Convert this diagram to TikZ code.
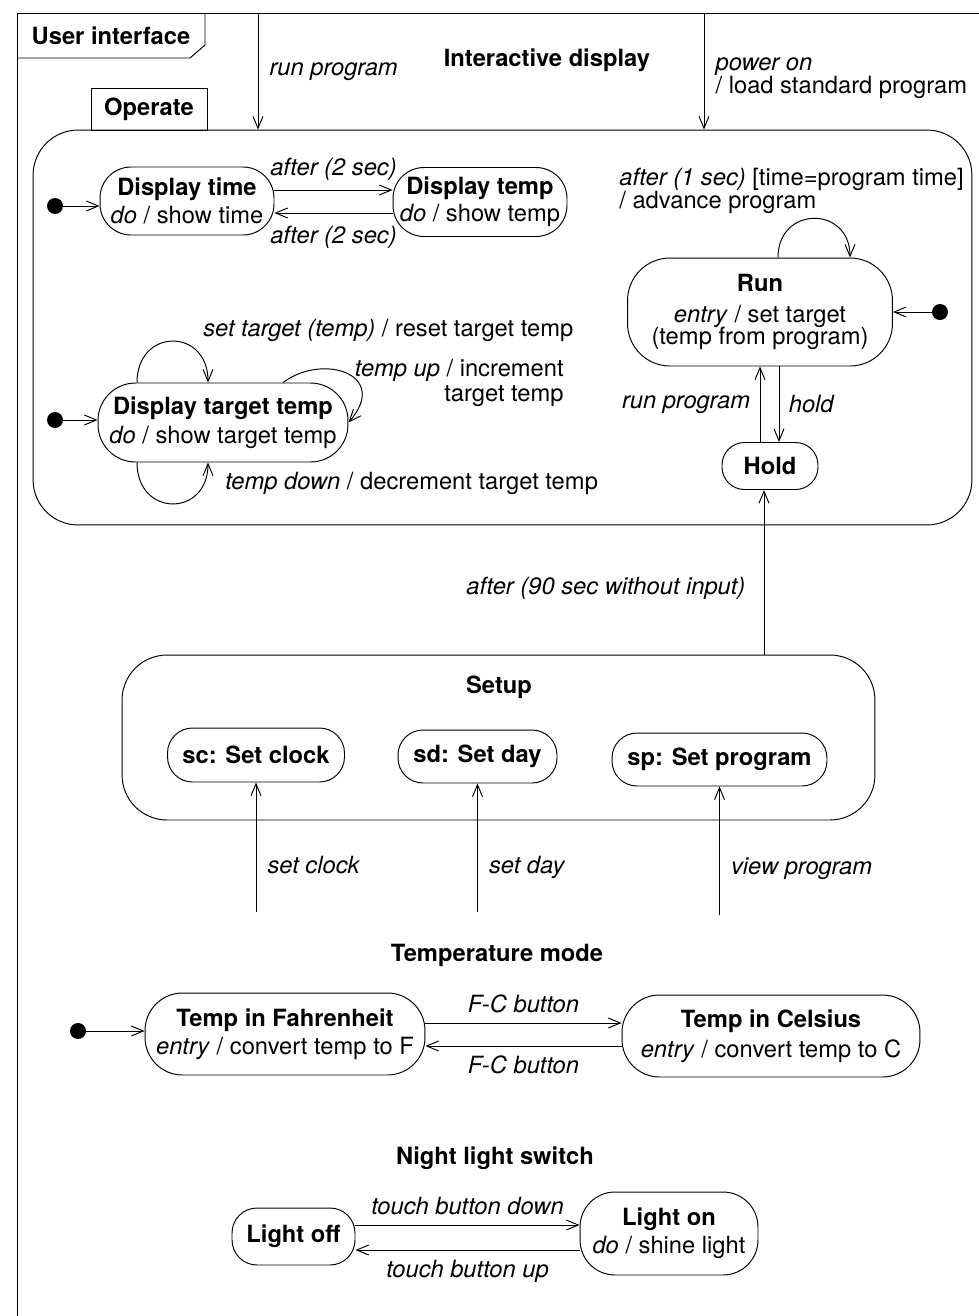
\documentclass[tikz,border=0pt]{standalone}
\usepackage{fontspec}
\setmainfont{TeX Gyre Heros}
\usetikzlibrary{positioning,arrows.meta,calc}

\begin{document}
\begin{tikzpicture}[x=0.02cm, y=-0.02cm,
      font=\fontsize{13.5}{13}\selectfont,
      line width=0.55pt,
      state/.style={draw, rounded corners=0.5cm, align=center, inner sep=2pt},
      comp/.style={draw, rounded corners=0.9cm},
      ttl/.style={font=\fontsize{13.5}{13}\selectfont\bfseries},
      lab/.style={font=\fontsize{13.5}{13}\selectfont\itshape},
      init/.style={circle, fill, inner sep=0pt, minimum size=0.32cm},
      arr/.style={-{Straight Barb[length=2.4mm, width=2mm]}}]
    \useasboundingbox (0,0) rectangle (979,1316);
    % outer frame and its tab
    \draw (17,1316) -- (17,13) -- (979,13);
    \draw (17,58) -- (190,58) -- (205,45) -- (205,13);
    \node[ttl] (ui) at (111,36) {User interface};
    \node[ttl] (idisp) at (547,60) {Interactive display};

    % Operate
    \node[comp, minimum width=18.78cm, minimum height=7.9cm] (operate) at (502.5,327.5) {};
    \node[draw, ttl, minimum width=2.32cm, minimum height=0.84cm] (optab) at (149,109) {Operate};
    \coordinate (runtop) at (258,13);
    \coordinate (pwrtop) at (704,13);
    \draw[arr] (runtop) -- (runtop |- operate.north) node[lab, midway, right=3pt] {run program};
    \draw[arr] (pwrtop) -- (pwrtop |- operate.north)
      node[pos=0.56, right=3pt, align=left] {\textit{power on}\\/ load standard program};

    \node[init] (i1) at (55,206) {};
    \node[state, minimum width=3.48cm, minimum height=1.36cm, rounded corners=0.62cm] (dtime) at (187,201)
      {\textbf{Display time}\\[2.5pt]\textit{do} / show time};
    \node[state, minimum width=3.48cm, minimum height=1.38cm, rounded corners=0.62cm] (dtemp) at (480,202)
      {\textbf{Display temp}\\[2.5pt]\textit{do} / show temp};
    \draw[arr] (i1) -- (i1 -| dtime.west);
    \draw[arr] ([yshift=0.22cm]dtime.east) -- ([yshift=0.22cm]dtime.east -| dtemp.west)
      node[lab, midway, above=2pt] {after (2 sec)};
    \draw[arr] ([yshift=-0.22cm]dtemp.west) -- ([yshift=-0.22cm]dtemp.west -| dtime.east)
      node[lab, midway, below=4pt] {after (2 sec)};

    \node[init] (i2) at (55,420) {};
    \node[state, minimum width=5cm, minimum height=1.58cm, rounded corners=0.75cm] (dtt) at (223,422.5)
      {\textbf{Display target temp}\\[3.5pt]\textit{do} / show target temp};
    \draw[arr] (i2) -- (i2 -| dtt.west);
    \draw[arr] ([xshift=-1.72cm]dtt.north) .. controls +(0,-55) and +(0,-55) .. ([xshift=-0.3cm]dtt.north);
    \draw[arr] ([xshift=1.2cm]dtt.north) .. controls +(40,-30) and +(42,-48) .. (dtt.east);
    \draw[arr] ([xshift=-1.72cm]dtt.south) .. controls +(0,55) and +(0,55) .. ([xshift=-0.3cm]dtt.south);
    \node[anchor=west] (lset) at (197,330) {\textit{set target (temp)} / reset target temp};
    \node[anchor=east, align=right] (lup) at (570,383) {\textit{temp up} / increment\\[1pt]target temp};
    \node[anchor=west] (ldown) at (219,483) {\textit{temp down} / decrement target temp};

    \node[state, minimum width=5.3cm, minimum height=2.16cm, rounded corners=0.85cm] (run) at (760,312)
      {\textbf{Run}\\[4.5pt]\textit{entry} / set target\\(temp from program)};
    \node[init] (i3) at (940,312) {};
    \draw[arr] (i3) -- (run.east);
    \draw[arr] ([xshift=0.36cm]run.north) .. controls +(0,-52) and +(0,-52) .. ([xshift=1.8cm]run.north);
    \node[anchor=west, align=left] (ladv) at (613,191) {\textit{after (1 sec)} [time=program time]\\/ advance program};
    \node[state, minimum width=1.92cm, minimum height=0.94cm, rounded corners=0.45cm] (hold) at (770,466) {\textbf{Hold}};
    \draw[arr] (hold.north -| run.south) -- (run.south) node[lab, midway, left=2pt] {run program};
    \draw[arr] ([xshift=0.38cm]run.south) -- ([xshift=0.38cm]run.south |- hold.north)
      node[lab, midway, right=2pt] {hold};

    % Setup
    \node[comp, minimum width=15.06cm, minimum height=3.3cm] (setup) at (498.5,737.5) {};
    \node[ttl] (setupt) at (499,687) {Setup};
    \node[state, minimum width=3.54cm, minimum height=1.08cm] (sc) at (256,755) {\textbf{sc: Set clock}};
    \node[state, minimum width=3.18cm, minimum height=1.06cm] (sd) at (477.5,756.5) {\textbf{sd: Set day}};
    \node[state, minimum width=4.3cm, minimum height=1.06cm] (sp) at (719.5,759.5) {\textbf{sp: Set program}};
    \draw[arr] ([xshift=-0.12cm]hold.south |- setup.north) -- ([xshift=-0.12cm]hold.south)
      node[lab, pos=0.4, left=7pt] {after (90 sec without input)};
    \coordinate (csc) at (256,912);
    \coordinate (csd) at (477.5,912);
    \coordinate (csp) at (719.5,915);
    \draw[arr] (csc) -- (sc) node[lab, pos=0.36, right=3pt] {set clock};
    \draw[arr] (csd) -- (sd) node[lab, pos=0.35, right=3pt] {set day};
    \draw[arr] (csp) -- (sp) node[lab, pos=0.36, right=3pt] {view program};

    % Temperature mode
    \node[ttl] (tmode) at (497,955) {Temperature mode};
    \node[init] (i4) at (78,1031) {};
    \node[state, minimum width=5.6cm, minimum height=1.64cm, rounded corners=0.75cm] (fahr) at (285,1034)
      {\textbf{Temp in Fahrenheit}\\[3pt]\textit{entry} / convert temp to F};
    \node[state, minimum width=5.96cm, minimum height=1.64cm, rounded corners=0.75cm] (cels) at (771,1036)
      {\textbf{Temp in Celsius}\\[3pt]\textit{entry} / convert temp to C};
    \draw[arr] (i4) -- (i4 -| fahr.west);
    \draw[arr] ([yshift=0.22cm]fahr.east) -- ([yshift=0.22cm]fahr.east -| cels.west)
      node[lab, midway, above=2pt] {F-C button};
    \draw[arr] ([yshift=-0.2cm]cels.west) -- ([yshift=-0.2cm]cels.west -| fahr.east)
      node[lab, midway, below=2pt] {F-C button};

    % Night light switch
    \node[ttl] (nlight) at (495,1158) {Night light switch};
    \node[state, minimum width=2.46cm, minimum height=1.14cm] (off) at (293.5,1236.5) {\textbf{Light off}};
    \node[state, minimum width=3.56cm, minimum height=1.66cm, rounded corners=0.7cm] (on) at (669,1233.5)
      {\textbf{Light on}\\[3pt]\textit{do} / shine light};
    \draw[arr] ([yshift=0.23cm]off.east) -- ([yshift=0.23cm]off.east -| on.west)
      node[lab, midway, above=2pt] {touch button down};
    \draw[arr] ([yshift=-0.27cm]off.east -| on.west) -- ([yshift=-0.27cm]off.east)
      node[lab, midway, below=2pt] {touch button up};
  \end{tikzpicture}
\end{document}
